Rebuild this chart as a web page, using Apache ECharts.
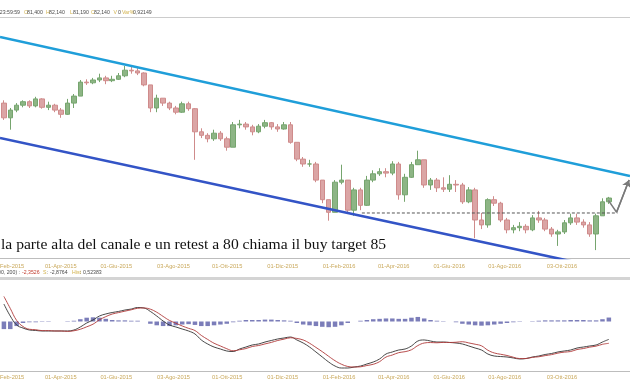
<!DOCTYPE html>
<html><head><meta charset="utf-8">
<script src="https://cdn.jsdelivr.net/npm/echarts@6/dist/echarts.min.js"></script>
<style>html,body{margin:0;padding:0;background:#fff}#c{width:630px;height:380px}</style>
</head><body><div id="c"></div>
<script>
// ---- data (weekly bars) ----
const firstWeek = '2015-01-28T12:00:00';
const opens = [95.7,93.6,94.7,95.4,95.9,95.3,96.3,95.1,95.4,94.7,
 94.1,95.7,96.7,98.7,98.6,99.0,99.3,98.9,99.1,99.6,
 100.4,100.3,100.0,98.3,95.0,96.4,95.7,95.0,94.4,95.6,
 94.9,91.6,91.1,90.6,91.4,90.6,89.4,92.6,92.7,92.3,
 91.6,92.4,92.9,92.3,92.0,92.6,90.1,87.7,87.0,87.0,
 84.7,81.9,80.1,84.4,84.7,80.4,83.3,81.1,84.7,85.6,
 85.9,85.7,87.0,82.6,85.1,86.9,87.6,84.0,84.7,83.6,
 83.4,84.1,84.0,81.6,83.3,79.0,78.3,81.9,81.4,79.0,
 77.6,77.9,78.1,77.6,79.3,79.0,77.7,77.0,77.3,78.6,
 79.3,78.7,78.3,77.0,79.6,81.6];
const closes = [93.6,94.7,95.4,95.9,95.3,96.3,95.1,95.4,94.7,94.1,
 95.7,96.7,98.7,98.6,99.0,99.3,98.9,99.1,99.6,100.4,
 100.3,100.0,98.3,95.0,96.4,95.7,95.0,94.4,95.6,94.9,
 91.6,91.1,90.6,91.4,90.6,89.4,92.6,92.7,92.3,91.6,
 92.4,92.9,92.3,92.0,92.6,90.1,87.7,87.0,87.0,84.7,
 81.9,80.1,84.4,84.7,80.4,83.3,81.1,84.7,85.6,85.9,
 85.7,87.0,82.6,85.1,86.9,87.6,84.0,84.7,83.6,83.4,
 84.1,84.0,81.6,83.3,79.0,78.3,81.9,81.4,79.0,77.6,
 77.9,78.1,77.6,79.3,79.0,77.7,77.0,77.3,78.6,79.3,
 78.7,78.3,77.0,79.6,81.6,82.14];
const highs = [96.1,95.0,95.7,96.1,96.1,96.6,96.4,95.9,95.6,95.0,
 96.3,97.0,99.0,99.1,99.3,99.9,99.6,99.6,100.0,101.0,
 100.9,100.7,100.1,98.3,96.9,96.4,95.9,95.3,95.9,95.9,
 95.0,92.1,91.4,91.9,91.7,90.9,93.0,93.3,93.0,92.6,
 92.7,93.3,93.0,92.7,93.0,93.0,90.1,88.0,87.6,87.3,
 84.7,81.9,84.7,86.9,84.7,83.6,83.6,85.3,86.1,86.4,
 86.4,87.4,87.3,85.6,87.3,88.9,87.6,85.0,85.0,85.1,
 85.4,84.7,84.3,83.7,83.6,80.0,82.1,82.4,81.6,79.3,
 78.3,78.7,78.4,79.7,80.3,79.3,78.0,77.6,79.0,79.9,
 79.9,79.1,78.7,79.9,82.1,82.3];
const lows = [93.3,91.9,94.4,95.1,95.0,95.1,94.9,94.7,94.4,93.6,
 94.0,95.0,96.7,98.3,98.4,98.7,98.4,98.7,99.0,99.4,
 99.9,99.7,98.1,94.4,94.4,95.3,94.7,94.1,94.3,94.6,
 87.6,90.7,90.1,90.3,90.3,88.9,89.4,92.1,91.9,91.1,
 91.4,92.1,91.9,91.6,91.9,89.9,87.4,86.6,86.6,84.4,
 81.4,78.9,80.1,84.1,80.1,79.6,80.4,81.0,84.4,85.3,
 85.1,85.4,81.9,81.6,85.0,86.9,83.6,83.3,83.0,83.0,
 83.0,83.0,81.3,81.4,76.4,77.7,77.9,81.0,78.7,77.1,
 77.1,77.4,77.1,77.4,78.6,77.4,76.6,75.3,77.0,78.3,
 78.3,77.9,76.6,74.7,79.6,81.3];
const macd = [2.30,0.72,-0.46,-0.86,-1.12,-1.18,-1.25,-1.25,-1.25,-1.25,
 -1.25,-1.12,-0.72,-0.20,0.20,0.72,0.99,1.18,1.32,1.51,
 1.64,1.84,1.78,1.32,0.72,0.07,-0.46,-0.72,-0.99,-1.25,
 -1.64,-2.43,-2.96,-3.36,-3.62,-3.88,-3.95,-3.62,-3.36,-3.09,
 -2.96,-2.70,-2.50,-2.30,-2.17,-2.04,-2.43,-2.83,-3.36,-4.01,
 -4.67,-5.33,-5.86,-6.12,-6.12,-5.99,-5.86,-5.59,-5.33,-4.93,
 -4.28,-4.01,-3.75,-3.62,-3.22,-2.57,-2.43,-2.57,-2.70,-2.70,
 -2.76,-2.83,-2.96,-3.22,-3.49,-3.75,-4.28,-4.54,-4.61,-4.67,
 -4.80,-4.93,-4.87,-4.67,-4.54,-4.34,-4.21,-4.01,-3.88,-3.75,
 -3.49,-3.36,-3.22,-3.09,-2.70,-2.35];
const signal = [3.30,1.72,0.14,-0.66,-1.02,-1.08,-1.20,-1.20,-1.25,-1.25,
 -1.30,-1.22,-1.02,-0.70,-0.35,0.22,0.64,0.98,1.17,1.36,
 1.54,1.74,1.78,1.62,1.22,0.67,0.14,-0.22,-0.59,-0.90,
 -1.19,-1.83,-2.36,-2.86,-3.22,-3.58,-3.85,-3.72,-3.56,-3.29,
 -3.16,-2.95,-2.75,-2.50,-2.32,-2.14,-2.23,-2.43,-2.86,-3.41,
 -3.97,-4.58,-5.16,-5.62,-5.92,-5.99,-5.96,-5.79,-5.63,-5.28,
 -4.68,-4.41,-4.10,-3.97,-3.72,-3.17,-2.83,-2.77,-2.80,-2.75,
 -2.76,-2.73,-2.66,-2.82,-2.99,-3.20,-3.78,-4.14,-4.31,-4.47,
 -4.70,-4.88,-4.87,-4.72,-4.64,-4.49,-4.36,-4.16,-4.03,-3.95,
 -3.69,-3.56,-3.37,-3.24,-3.00,-2.87];
const hist = [-1.0,-1.0,-0.6,-0.2,-0.1,-0.1,-0.05,-0.05,0,0,
 0.05,0.1,0.3,0.5,0.55,0.5,0.35,0.2,0.15,0.15,
 0.1,0.1,0,-0.3,-0.5,-0.6,-0.6,-0.5,-0.4,-0.35,
 -0.45,-0.6,-0.6,-0.5,-0.4,-0.3,-0.1,0.1,0.2,0.2,
 0.2,0.25,0.25,0.2,0.15,0.1,-0.2,-0.4,-0.5,-0.6,
 -0.7,-0.75,-0.7,-0.5,-0.2,0,0.1,0.2,0.3,0.35,
 0.4,0.4,0.35,0.35,0.5,0.6,0.4,0.2,0.1,0.05,
 0,-0.1,-0.3,-0.4,-0.5,-0.55,-0.5,-0.4,-0.3,-0.2,
 -0.1,-0.05,0,0.05,0.1,0.15,0.15,0.15,0.15,0.2,
 0.2,0.2,0.15,0.15,0.3,0.52];
const tickDates = ['2015-02-02','2015-04-01','2015-06-01','2015-08-03','2015-10-01','2015-12-01','2016-02-01','2016-04-01','2016-06-01','2016-08-01','2016-10-03'];
const tickLabels = ['02-Feb-2015','01-Apr-2015','01-Giu-2015','03-Ago-2015','01-Ott-2015','01-Dic-2015','01-Feb-2016','01-Apr-2016','01-Giu-2016','01-Ago-2016','03-Ott-2016'];
const channelDates = ['2015-01-24T05:00:00','2016-12-16T18:00:00'];
const channelUpper = [105.14, 85.29];
const channelLower = [90.71, 71.3];
const retestDates = ['2016-02-26','2016-12-03'];
const retestLevel = 80;
const arrowDates = ['2016-11-23','2016-12-02','2016-12-15T18:00:00'];
const arrowPrices = [81.8, 80.1, 84.7];
const header = [['18/11/2016 23:59:59','d'],['O','y'],['81,400','d'],['H','y'],['82,140','d'],['L','y'],['81,190','d'],['C','y'],['82,140','d'],['V','y'],['0','d'],['Var%','y'],['0,92149','d']];
const macdLegend = [['MACD (100, 200) :','d'],['-2,3526','r'],['S','y'],[':','d'],['-2,8764','d'],['Hist','y'],[':','d'],['0,52383','d']];
const note = 'la parte alta del canale e un retest a 80 chiama il buy target 85';

// ---- build ----
const T = s => new Date(s.length === 10 ? s + 'T00:00:00' : s).getTime();
const DAY = 86400000;
const weeks = closes.map((_, i) => T(firstWeek) + i * 7 * DAY);
const tickTimes = tickDates.map(T);
const xMin = T(channelDates[0]), xMax = T(channelDates[1]);
const fmtDate = v => { for (let i = 0; i < tickTimes.length; i++) if (Math.abs(tickTimes[i] - v) < DAY / 2) return tickLabels[i]; return ''; };
const colors = {y: '#d2b24c', d: '#4a4a4a', r: '#c0392b'};
const headerX = [20, 24, 27, 46, 49, 70, 73, 91, 94, 113.5, 118, 122, 133];
const legendX = [20, 22, 43, 46.5, 50, 72, 80, 83];
const textItems = (arr, xs, y) => arr.map((a, i) => ({
  type: 'text', x: xs[i], y: y, silent: true,
  style: {text: a[0], fill: colors[a[1]], font: '5.2px "Liberation Sans", Arial', textAlign: i === 0 ? 'right' : 'left', textVerticalAlign: 'middle'}
}));

const axisX = (gi, margin) => ({
  type: 'value', gridIndex: gi, min: xMin, max: xMax, scale: true,
  axisLine: {show: true, onZero: false, lineStyle: {color: '#bdbdbd', width: 1}},
  axisTick: {show: false}, splitLine: {show: false},
  axisLabel: {customValues: tickTimes, formatter: fmtDate, color: '#c9a85a', fontSize: 5.7, fontFamily: '"Liberation Sans", Arial', margin: margin, hideOverlap: false, showMinLabel: true, showMaxLabel: true}
});

const option = {
  animation: false,
  backgroundColor: '#ffffff',
  grid: [
    {left: 0, right: 0, top: 18, height: 240, containLabel: false, outerBoundsMode: 'none'},
    {left: 0, right: 0, top: 282, height: 89, containLabel: false, outerBoundsMode: 'none'}
  ],
  xAxis: [axisX(0, 5), axisX(1, 3)],
  yAxis: [
    {type: 'value', gridIndex: 0, min: 73.571, max: 107.857, show: false, splitLine: {show: false}},
    {type: 'value', gridIndex: 1, min: -6.513, max: 5.197, show: false, splitLine: {show: false}}
  ],
  series: [
    {type: 'candlestick', xAxisIndex: 0, yAxisIndex: 0, barWidth: 5,
     data: weeks.map((t, i) => [t, opens[i], closes[i], lows[i], highs[i]]),
     itemStyle: {color: '#8db585', color0: '#dba5a5', borderColor: '#76a56e', borderColor0: '#cf8b8b', borderWidth: 1}},
    {type: 'line', xAxisIndex: 0, yAxisIndex: 0, symbol: 'none', silent: true,
     data: channelDates.map((d, i) => [T(d), channelUpper[i]]), lineStyle: {color: '#1f9ed9', width: 2.6}},
    {type: 'line', xAxisIndex: 0, yAxisIndex: 0, symbol: 'none', silent: true,
     data: channelDates.map((d, i) => [T(d), channelLower[i]]), lineStyle: {color: '#3354c6', width: 2.6}},
    {type: 'line', xAxisIndex: 0, yAxisIndex: 0, symbol: 'none', silent: true,
     data: retestDates.map(d => [T(d), retestLevel]), lineStyle: {color: '#555555', width: 1, type: [3, 2]}},
    {type: 'line', xAxisIndex: 0, yAxisIndex: 0, symbol: 'none', silent: true,
     data: arrowDates.map((d, i) => [T(d), arrowPrices[i]]), lineStyle: {color: '#7a7a7a', width: 1.5},
     markLine: {silent: true, symbol: ['none', 'arrow'], symbolSize: 7, label: {show: false},
       lineStyle: {color: '#7a7a7a', width: 1.5, type: 'solid'},
       data: [[{coord: [T(arrowDates[1]), arrowPrices[1]]}, {coord: [T(arrowDates[2]), arrowPrices[2]]}]]}},
    {type: 'bar', xAxisIndex: 1, yAxisIndex: 1, barWidth: 4.5, silent: true,
     data: weeks.map((t, i) => [t, hist[i]]), itemStyle: {color: '#7b7db9'}},
    {type: 'line', xAxisIndex: 1, yAxisIndex: 1, symbol: 'none', smooth: 0.4, silent: true,
     data: weeks.map((t, i) => [t, macd[i]]), lineStyle: {color: '#333333', width: 0.9}},
    {type: 'line', xAxisIndex: 1, yAxisIndex: 1, symbol: 'none', smooth: 0.4, silent: true,
     data: weeks.map((t, i) => [t, signal[i]]), lineStyle: {color: '#b03a3a', width: 0.9}}
  ],
  graphic: [
    {type: 'line', silent: true, shape: {x1: 0, y1: 17.5, x2: 630, y2: 17.5}, style: {stroke: '#cccccc', lineWidth: 1}},
    {type: 'rect', silent: true, shape: {x: 0, y: 277, width: 630, height: 3}, style: {fill: '#d4d4d4'}},
    {type: 'text', x: 1, y: 245, silent: true, style: {text: note, fill: '#111111', font: '15.6px "Liberation Serif", "Times New Roman", serif', textVerticalAlign: 'middle'}}
  ].concat(textItems(header, headerX, 12.5), textItems(macdLegend, legendX, 273))
};
const chart = echarts.init(document.getElementById('c'), null, {renderer: 'canvas'});
chart.setOption(option);
</script></body></html>
